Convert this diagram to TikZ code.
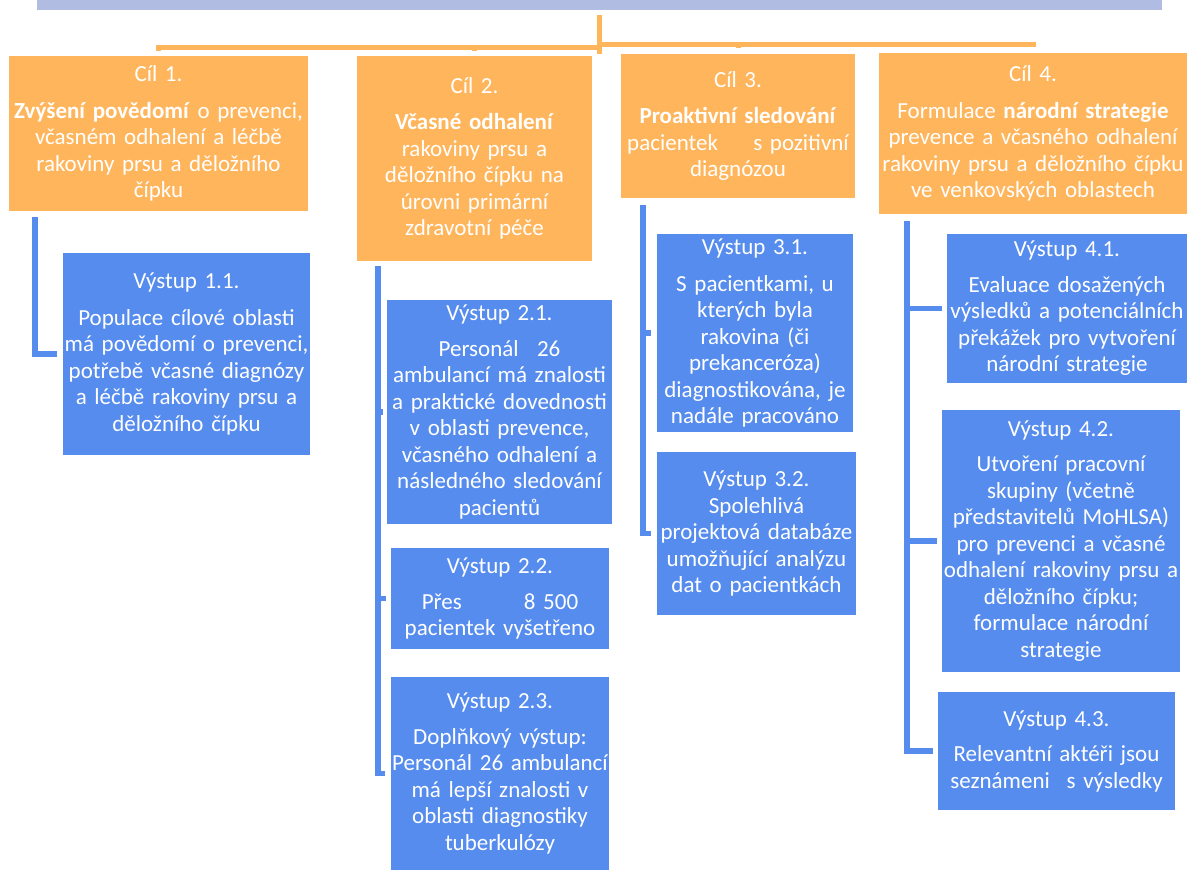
\documentclass[tikz,border=0pt]{standalone}
\usepackage{fontspec}
\setmainfont{Carlito}
\definecolor{orng}{HTML}{FFB55B}
\definecolor{blu}{HTML}{558CEE}
\definecolor{barc}{HTML}{B0BCE1}
\tikzset{
  box/.style={inner sep=0pt, align=center, text=white, font=\fontsize{23}{26.5}\selectfont},
  goal/.style={box, fill=orng},
  outp/.style={box, fill=blu},
  oline/.style={draw=orng, line width=5pt},
  bline/.style={draw=blu, line width=5.5pt},
}
\begin{document}
\begin{tikzpicture}[x=1pt,y=-1pt]
\useasboundingbox (0,0) rectangle (1187,870);
\clip (0,0) rectangle (1187,870);
% title bar (cut off at the top)
\node[fill=barc, minimum width=1125pt, minimum height=20pt, inner sep=0pt] (bar) at (599.5,0) {};
% goals
\node[goal, text width=299pt, minimum height=155pt] (c1) at (158.5,133.5)
  {Cíl 1.\\[10pt]\textbf{Zvýšení povědomí} o prevenci,\\ včasném odhalení a léčbě\\ rakoviny prsu a děložního\\ čípku};
\node[goal, text width=235pt, minimum height=205pt] (c2) at (474.5,158.5)
  {Cíl 2.\\[10pt]\textbf{Včasné odhalení}\\ rakoviny prsu a\\ děložního čípku na\\ úrovni primární\\ zdravotní péče};
\node[goal, text width=234pt, minimum height=144pt] (c3) at (738,126)
  {Cíl 3.\\[10pt]\textbf{Proaktivní sledování}\\ pacientek\hspace{1.2em} s pozitivní\\ diagnózou};
\node[goal, text width=308pt, minimum height=161pt] (c4) at (1033,133.5)
  {Cíl 4.\\[10pt]Formulace \textbf{národní strategie}\\ prevence a včasného odhalení\\ rakoviny prsu a děložního čípku\\ ve venkovských oblastech};
% outputs
\node[outp, text width=247pt, minimum height=202pt] (o11) at (186.5,354)
  {Výstup 1.1.\\[10pt]Populace cílové oblasti\\ má povědomí o prevenci,\\ potřebě včasné diagnózy\\ a léčbě rakoviny prsu a\\ děložního čípku};
\node[outp, text width=225pt, minimum height=224pt] (o21) at (499.5,412)
  {Výstup 2.1.\\[9pt]Personál\hspace{0.8em}26\\ ambulancí má znalosti\\ a praktické dovednosti\\ v oblasti prevence,\\ včasného odhalení a\\ následného sledování\\ pacientů};
\node[outp, text width=218pt, minimum height=101pt] (o22) at (500,598.5)
  {Výstup 2.2.\\[9pt]Přes\hspace*{62pt}8 500\\ pacientek vyšetřeno};
\node[outp, text width=218pt, minimum height=193pt] (o23) at (500,773.5)
  {Výstup 2.3.\\[9pt]Doplňkový výstup:\\ Personál 26 ambulancí\\ má lepší znalosti v\\ oblasti diagnostiky\\ tuberkulózy};
\node[outp, text width=196pt, minimum height=198pt] (o31) at (755,333)
  {Výstup 3.1.\\[10pt]S pacientkami, u\\ kterých byla\\ rakovina (či\\ prekanceróza)\\ diagnostikována, je\\ nadále pracováno};
\node[outp, text width=199pt, minimum height=163pt] (o32) at (756.5,533.5)
  {Výstup 3.2.\\ Spolehlivá\\ projektová databáze\\ umožňující analýzu\\ dat o pacientkách};
\node[outp, text width=240pt, minimum height=149pt] (o41) at (1067,308.5)
  {Výstup 4.1.\\[9pt]Evaluace dosažených\\ výsledků a potenciálních\\ překážek pro vytvoření\\ národní strategie};
\node[outp, text width=238pt, minimum height=262pt] (o42) at (1061,541)
  {Výstup 4.2.\\[9pt]Utvoření pracovní\\ skupiny (včetně\\ představitelů MoHLSA)\\ pro prevenci a včasné\\ odhalení rakoviny prsu a\\ děložního čípku;\\ formulace národní\\ strategie};
\node[outp, text width=237pt, minimum height=118pt] (o43) at (1056.5,751)
  {Výstup 4.3.\\[9pt]Relevantní aktéři jsou\\ seznámeni\hspace{0.4em} s výsledky};
% orange connectors
\coordinate (hubL) at (600,47);
\coordinate (hubR) at (600,44);
\draw[oline] ([yshift=-5pt]bar.south) -- ([yshift=-5pt]bar.south |- 0,49);
\draw[oline] ([yshift=5pt]c1.north) |- (hubL);
\draw[oline] ([yshift=5pt]c2.north) -- (c2.north |- hubL);
\draw[oline] ([yshift=6pt]c4.north) |- (hubR);
\draw[oline] ([yshift=6pt]c3.north) -- (c3.north |- hubR);
% blue connectors
\coordinate (t1) at (35,217);
\draw[bline] (t1) |- ([xshift=-6pt]o11.west);
\coordinate (t2) at (378,266);
\draw[bline] (t2) |- ([xshift=-6pt]o23.west);
\draw[bline] (t2 |- o21.west) -- ([xshift=-4pt]o21.west);
\draw[bline] (t2 |- o22.west) -- ([xshift=-5pt]o22.west);
\coordinate (t3) at (643,205);
\draw[bline] (t3) |- ([xshift=-6pt]o32.west);
\draw[bline] (t3 |- o31.west) -- ([xshift=-6pt]o31.west);
\coordinate (t4) at (907,221);
\draw[bline] (t4) |- ([xshift=-5pt]o43.west);
\draw[bline] (t4 |- o41.west) -- ([xshift=-5pt]o41.west);
\draw[bline] (t4 |- o42.west) -- ([xshift=-5pt]o42.west);
\end{tikzpicture}
\end{document}
